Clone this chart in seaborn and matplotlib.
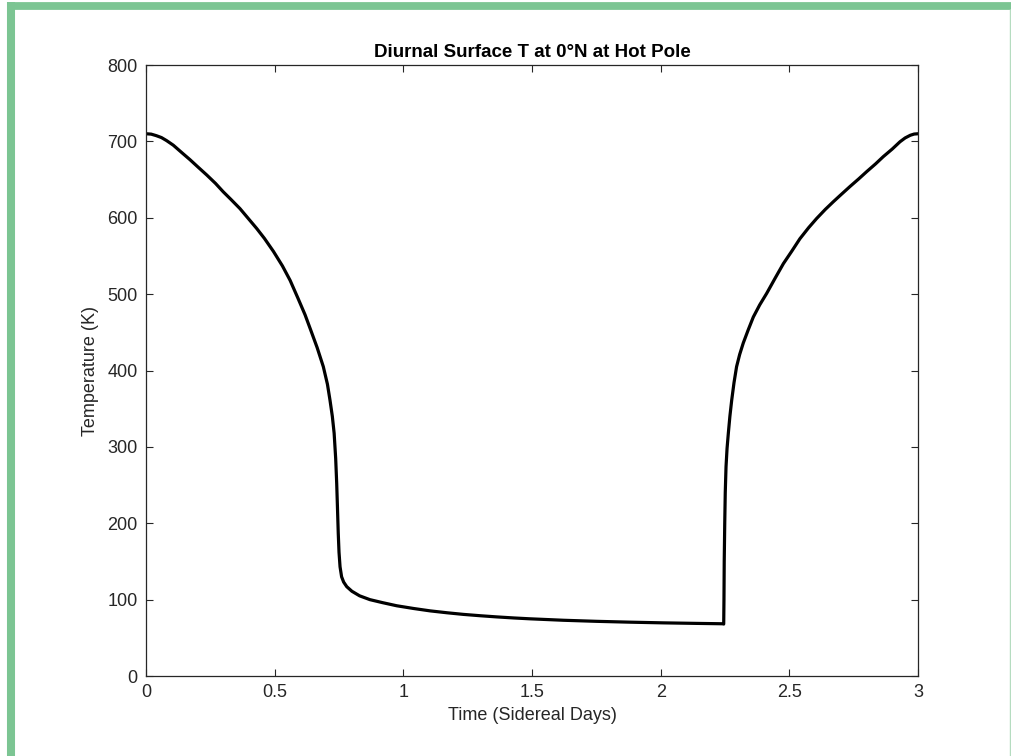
import matplotlib
matplotlib.use("Agg")
import matplotlib.pyplot as plt
from matplotlib.lines import Line2D
import seaborn as sns
import pandas as pd

# Surface temperature over three sidereal days at the equator, hot pole longitude
time_days = [
    0.000, 0.020, 0.040, 0.060, 0.080, 0.106, 0.140, 0.171, 0.200, 0.236,
    0.270, 0.300, 0.330, 0.365, 0.400, 0.430, 0.460, 0.495, 0.530, 0.560,
    0.590, 0.618, 0.640, 0.665, 0.689, 0.705, 0.715, 0.724, 0.731, 0.737,
    0.741, 0.744, 0.747, 0.750, 0.754, 0.760, 0.768, 0.780, 0.800, 0.830,
    0.870, 0.920, 0.974, 1.040, 1.104, 1.170, 1.233, 1.300, 1.363, 1.430,
    1.492, 1.622, 1.751, 1.881, 2.010, 2.140, 2.243,
    2.245, 2.246, 2.247, 2.249, 2.251, 2.254, 2.258, 2.263, 2.269, 2.276,
    2.285, 2.295, 2.307, 2.321, 2.340, 2.360, 2.385, 2.412, 2.445, 2.477,
    2.510, 2.541, 2.575, 2.606, 2.640, 2.671, 2.700, 2.736, 2.770, 2.801,
    2.835, 2.865, 2.900, 2.930, 2.950, 2.970, 2.985, 3.000,
]
temperature_k = [
    710, 709.5, 707.5, 705, 701, 695, 685, 676, 667, 656,
    645, 634, 624, 612, 598, 586, 573, 556, 537, 518,
    495, 473, 453, 430, 405, 382, 361, 340, 318, 285,
    252, 220, 187, 162, 143, 130, 123, 117, 111, 105,
    100, 96, 92, 88.4, 85.3, 82.8, 80.7, 78.9, 77.4, 76.0,
    74.9, 73.0, 71.6, 70.5, 69.6, 68.9, 68.4,
    68, 100, 150, 200, 240, 274, 298, 318, 340, 361,
    384, 405, 421, 436, 453, 470, 486, 501, 521, 540,
    556.5, 572.5, 587, 599, 611, 621, 630, 641, 651, 660.5,
    670.5, 680, 690, 699.5, 704.5, 708, 709.6, 710,
]
x_ticks = [0, 0.5, 1, 1.5, 2, 2.5, 3]
x_tick_labels = ["0", "0.5", "1", "1.5", "2", "2.5", "3"]
y_ticks = [0, 100, 200, 300, 400, 500, 600, 700, 800]

df = pd.DataFrame({"Time (Sidereal Days)": time_days, "Temperature (K)": temperature_k})

sns.set_style("ticks")
plt.rcParams["font.family"] = ["Liberation Sans", "DejaVu Sans"]

axis_color = "#262626"
fig = plt.figure(figsize=(10.12, 7.56), dpi=100)
fig.patch.set_facecolor("white")
ax = fig.add_axes([0.1443, 0.1058, 0.7628, 0.8082])

sns.lineplot(data=df, x="Time (Sidereal Days)", y="Temperature (K)", sort=False,
             color="black", linewidth=2.3, ax=ax, estimator=None)

ax.set_xlim(0, 3)
ax.set_ylim(0, 800)
ax.set_xticks(x_ticks)
ax.set_xticklabels(x_tick_labels)
ax.set_yticks(y_ticks)
ax.set_yticklabels([str(v) for v in y_ticks])

ax.tick_params(direction="in", length=5, width=0.8, colors=axis_color,
               labelsize=13, top=True, right=True, pad=6)
for side in ax.spines.values():
    side.set_visible(True)
    side.set_color(axis_color)
    side.set_linewidth(0.9)

ax.set_xlabel("Time (Sidereal Days)", fontsize=13, color=axis_color, labelpad=4)
ax.set_ylabel("Temperature (K)", fontsize=13, color=axis_color, labelpad=6)
ax.set_title("Diurnal Surface T at 0°N at Hot Pole", fontsize=13.5,
             fontweight="bold", color="black", pad=6)

# green window frame around the figure
W, H = 1012, 756
green = "#7cc593"
def px_line(x0, y0, x1, y1, lw, color):
    fig.add_artist(Line2D([x0 / W, x1 / W], [1 - y0 / H, 1 - y1 / H],
                          transform=fig.transFigure, color=color,
                          linewidth=lw, solid_capstyle="butt"))
px_line(11, 2, 11, 756, 5.8, green)
px_line(7, 5.5, 1012, 5.5, 5.6, green)
px_line(1010.5, 9, 1010.5, 756, 1.0, "#b5dcc0")

fig.savefig("out.png", dpi=100, facecolor="white")
